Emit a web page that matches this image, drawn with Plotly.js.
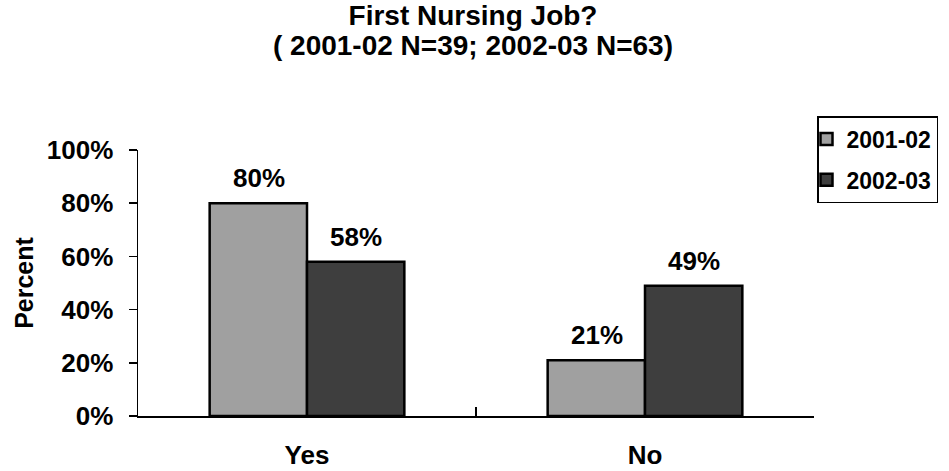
<!DOCTYPE html>
<html>
<head>
<meta charset="utf-8">
<script src="https://cdn.plot.ly/plotly-3.0.1.min.js"></script>
<style>html,body{margin:0;padding:0;background:#fff;}#chart{width:949px;height:471px;}</style>
</head>
<body>
<div id="chart"></div>
<script>
const categories = ["Yes", "No"];
const seriesNames = ["2001-02", "2002-03"];
const values2001 = [0.80, 0.21];
const values2002 = [0.58, 0.49];
const yTickVals = [0, 0.2, 0.4, 0.6, 0.8, 1.0];
const titleLines = ["First Nursing Job?", "( 2001-02 N=39; 2002-03 N=63)"];

const FONT = "Liberation Sans, Arial, sans-serif";
const colors = ["#a0a0a0", "#3e3e3e"];
const seriesValues = [values2001, values2002];

const traces = seriesValues.map((vals, i) => ({
  type: "bar",
  name: seriesNames[i],
  legendgroup: "g" + i,
  x: categories,
  y: vals,
  marker: {color: colors[i], line: {color: "#000", width: 2.5}},
  hoverinfo: "skip"
}));

const annotations = [];
seriesValues.forEach((vals, i) => {
  vals.forEach((v, j) => {
    annotations.push({
      x: categories[j], y: v, xref: "x", yref: "y",
      text: Math.round(v * 100) + "%",
      showarrow: false, yanchor: "bottom",
      xshift: (i === 0 ? -48.5 : 48.5), yshift: 8,
      font: {family: FONT, size: 26, color: "#000", weight: "bold"}
    });
  });
});

const titleText = titleLines.map(t => '<span style="font-size:28px">' + t + '</span>').join("<br>");

const layout = {
  width: 949, height: 471,
  margin: {l: 138, r: 135, t: 150, b: 55, autoexpand: false},
  paper_bgcolor: "#fff", plot_bgcolor: "#fff",
  barmode: "group", bargap: 0.424, bargroupgap: 0,
  title: {
    text: titleText, x: 473 / 949, xanchor: "center",
    y: 1 - 25 / 471, yref: "container", yanchor: "middle",
    font: {family: FONT, size: 23, color: "#000", weight: "bold"}
  },
  xaxis: {
    type: "category", range: [-0.5, 1.5],
    showline: true, linecolor: "#000", linewidth: 1.5,
    ticks: "inside", tickson: "boundaries", ticklen: 9, tickcolor: "#000", tickwidth: 1.5,
    showgrid: false, zeroline: false,
    tickfont: {family: FONT, size: 26, color: "#000", weight: "bold"},
    ticklabelstandoff: 15
  },
  yaxis: {
    range: [0, 1], tickvals: yTickVals, tickformat: ".0%",
    showline: true, linecolor: "#000", linewidth: 1.5,
    ticks: "outside", ticklen: 8, tickcolor: "#000", tickwidth: 1.5,
    showgrid: false, zeroline: false,
    tickfont: {family: FONT, size: 26, color: "#000", weight: "bold"},
    ticklabelstandoff: 10,
    title: {text: "Percent", standoff: 6, font: {family: FONT, size: 25, color: "#000", weight: "bold"}}
  },
  legend: {
    x: 817 / 949, xref: "container", xanchor: "left",
    y: 1 - 116 / 471, yref: "container", yanchor: "top",
    bgcolor: "#fff", bordercolor: "#000", borderwidth: 1.5,
    font: {family: FONT, size: 23, color: "#000", weight: "bold"},
    tracegroupgap: 8, itemwidth: 30, indentation: -12,
    traceorder: "grouped"
  },
  annotations: annotations,
  showlegend: true
};

Plotly.newPlot("chart", traces, layout, {staticPlot: true, displayModeBar: false});
</script>
</body>
</html>
